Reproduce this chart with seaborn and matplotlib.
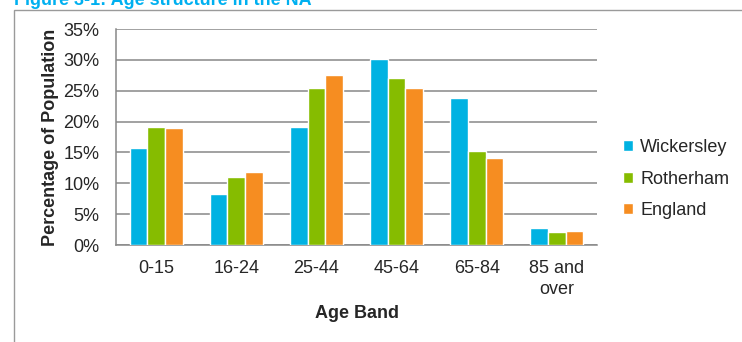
import pandas as pd
import numpy as np
import matplotlib
matplotlib.use('Agg')
import matplotlib.pyplot as plt
from matplotlib.patches import Rectangle
from matplotlib.ticker import FuncFormatter, FixedLocator, NullFormatter
import seaborn as sns

# Données
age_bands = ['0-15', '16-24', '25-44', '45-64', '65-84', '85 and\nover']
wickersley = [15.7, 8.3, 19.1, 30.2, 23.8, 2.8]
rotherham = [19.1, 11.0, 25.4, 27.1, 15.2, 2.1]
england = [18.9, 11.8, 27.6, 25.4, 14.1, 2.2]
areas = ['Wickersley', 'Rotherham', 'England']
colors = ['#00B2E2', '#86BC00', '#F68D21']

df = pd.DataFrame({
    'Age Band': age_bands * 3,
    'Area': np.repeat(areas, len(age_bands)),
    'Value': wickersley + rotherham + england,
})

sns.set_style('white')
plt.rcParams['font.family'] = ['Liberation Sans', 'DejaVu Sans']
fs = 13

fig = plt.figure(figsize=(7.42, 3.42), dpi=100)
ax = fig.add_axes([116 / 742, 1 - 245 / 342, (597 - 116) / 742, (245 - 29) / 342])

sns.barplot(data=df, x='Age Band', y='Value', hue='Area', palette=colors,
            width=0.66, saturation=1, ax=ax, legend=True, zorder=3)

grey = '#888888'
ax.set_ylim(0, 35)
ax.set_xlim(-0.5, 5.5)
ax.set_yticks(np.arange(0, 36, 5))
ax.yaxis.set_major_formatter(FuncFormatter(lambda v, p: f'{int(v)}%'))
ax.yaxis.grid(True, color=grey, linewidth=1.1, zorder=0)
ax.set_axisbelow(True)

# graduations de l'axe x entre les catégories
ax.set_xticks(range(6))
ax.set_xticklabels(age_bands, linespacing=1.3)
ax.tick_params(axis='x', length=0, pad=11, labelsize=fs)
ax.xaxis.set_minor_locator(FixedLocator(np.arange(-0.5, 6, 1)))
ax.xaxis.set_minor_formatter(NullFormatter())
ax.tick_params(axis='x', which='minor', length=5, width=1, color=grey, direction='out')
ax.tick_params(axis='y', length=5, width=1, color=grey, direction='out', pad=7, labelsize=fs)

for s in ['top', 'right']:
    ax.spines[s].set_visible(False)
for s in ['left', 'bottom']:
    ax.spines[s].set_color(grey)
    ax.spines[s].set_linewidth(1.1)

ax.set_xlabel('Age Band', fontsize=fs, fontweight='bold', labelpad=5)
ax.set_ylabel('Percentage of Population', fontsize=fs, fontweight='bold', labelpad=3)

ax.legend(title=None, frameon=False, fontsize=fs, loc='center left',
          bbox_to_anchor=(616 / 742, 1 - 179 / 342), bbox_transform=fig.transFigure,
          handlelength=0.55, handleheight=0.55, handletextpad=0.4, labelspacing=0.8,
          borderaxespad=0)

# cadre et titre coupé en haut
fig.patches.append(Rectangle((14 / 742, -0.1), 1.2, 1.1 - 10 / 342, transform=fig.transFigure,
                             fill=False, edgecolor='#9a9a9a', linewidth=1))
fig.text(14 / 742, 1 - 5 / 342, 'Figure 3-1: Age structure in the NA', color='#00B0F0',
         fontsize=13, fontweight='bold', va='baseline', ha='left')

plt.savefig('out.png', dpi=100)
plt.close()
